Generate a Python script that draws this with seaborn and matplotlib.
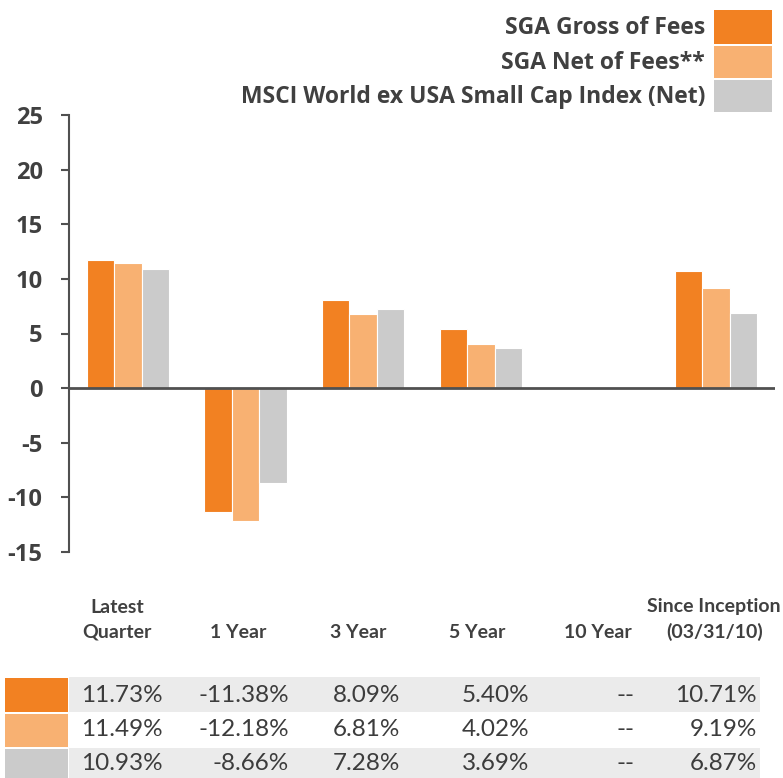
import numpy as np
import pandas as pd
import matplotlib
matplotlib.use("Agg")
import matplotlib.pyplot as plt
import matplotlib.transforms as mtransforms
from matplotlib.patches import Rectangle
import seaborn as sns

# ---- data ----
periods = ["Latest\nQuarter", "1 Year", "3 Year", "5 Year", "10 Year", "Since Inception\n(03/31/10)"]
series = ["SGA Gross of Fees", "SGA Net of Fees**", "MSCI World ex USA Small Cap Index (Net)"]
gross = [11.73, -11.38, 8.09, 5.40, np.nan, 10.71]
net = [11.49, -12.18, 6.81, 4.02, np.nan, 9.19]
index_ret = [10.93, -8.66, 7.28, 3.69, np.nan, 6.87]
colors = ["#F28122", "#F8B172", "#CBCBCB"]
yticks = [-15, -10, -5, 0, 5, 10, 15, 20, 25]

TXT = "#404040"
W, H = 783, 778

sns.set_theme(style="white")
plt.rcParams["font.family"] = ["Lato", "DejaVu Sans"]

rows = []
for s, vals in zip(series, [gross, net, index_ret]):
    for p, v in zip(periods, vals):
        rows.append({"period": p, "series": s, "value": v})
df = pd.DataFrame(rows)

fig = plt.figure(figsize=(W / 100, H / 100), dpi=100)
ax = fig.add_axes([69 / W, 1 - 552 / H, (775 - 69) / W, (552 - 115) / H])

sns.barplot(data=df, x="period", y="value", hue="series", order=periods,
            hue_order=series, palette=colors, saturation=1, width=0.7,
            edgecolor="white", linewidth=0.8, ax=ax, legend=False)

ax.set_ylim(-15, 25)
ax.set_xlim(-0.5, len(periods) - 0.5)
ax.set_yticks(yticks)
ax.set_yticklabels([str(t) for t in yticks], fontsize=17, fontweight="bold",
                   color=TXT, family=["Open Sans", "DejaVu Sans"])
ax.set_xlabel("")
ax.set_ylabel("")
ax.axhline(0, color="#505050", lw=2, zorder=5)
for sp in ["top", "right", "bottom"]:
    ax.spines[sp].set_visible(False)
ax.spines["left"].set_color("#505050")
ax.spines["left"].set_linewidth(1.5)
ax.tick_params(axis="y", direction="out", length=6, width=1.5, color="#505050",
               left=True, pad=13)
ax.tick_params(axis="x", length=0, pad=64)
ax.set_xticks(range(len(periods)))
ax.set_xticklabels(periods, fontsize=14, fontweight="bold", color=TXT, linespacing=1.55)
label_shift_px = [-11, -7, -5, -4, -1, -2]
for lab, dx in zip(ax.get_xticklabels(), label_shift_px):
    lab.set_va("bottom")
    lab.set_transform(lab.get_transform() +
                      mtransforms.ScaledTranslation(dx / 100, 0, fig.dpi_scale_trans))
ax.grid(False)

# legend (right-aligned labels with swatches on the right)
sw_tops = [10, 46, 80]
sw_bots = [44, 78, 112]
for name, c, t, b in zip(series, colors, sw_tops, sw_bots):
    fig.patches.append(Rectangle((714 / W, 1 - b / H), (772 - 714) / W, (b - t) / H,
                                 transform=fig.transFigure, facecolor=c, edgecolor="none"))
    fig.text(705 / W, 1 - ((t + b) / 2 + 1) / H, name, ha="right", va="center",
             fontsize=16.5, fontweight="bold", color=TXT, family=["Open Sans", "DejaVu Sans"])

# table below
row_tops = [677, 713, 748]
row_bots = [712, 747, 783]
col_right = [163, 289, 400, 529, 634, 757]
row_centers = [695, 730, 764]
for i, (vals, c) in enumerate(zip([gross, net, index_ret], colors)):
    top, bot = row_tops[i], row_bots[i]
    fig.patches.append(Rectangle((5 / W, 1 - bot / H), (68 - 5) / W, (bot - top - 1) / H,
                                 transform=fig.transFigure, facecolor=c, edgecolor="none"))
    if i != 1:
        fig.patches.append(Rectangle((69 / W, 1 - bot / H), (760 - 69) / W, (bot - top) / H,
                                     transform=fig.transFigure, facecolor="#EBEBEB",
                                     edgecolor="none", zorder=0))
    for x, v in zip(col_right, vals):
        s = "--" if np.isnan(v) else f"{v:.2f}%"
        fig.text(x / W, 1 - row_centers[i] / H, s, ha="right", va="center",
                 fontsize=17.5, fontweight="normal", color="#3c3c3c")

fig.savefig("out.png", dpi=100)
